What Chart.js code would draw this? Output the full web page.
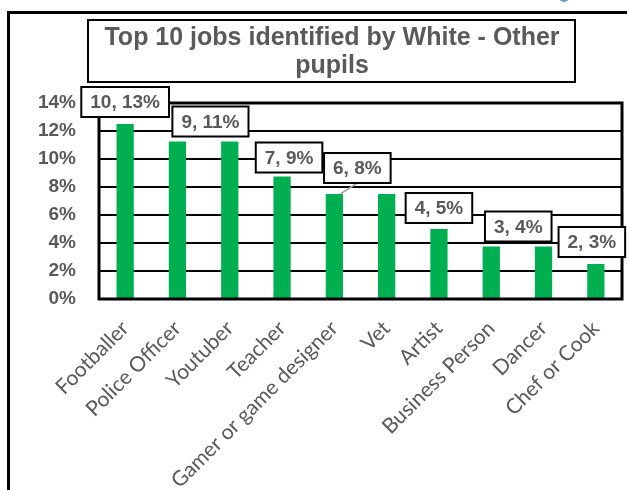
<!DOCTYPE html>
<html>
<head>
<meta charset="utf-8">
<title>Top 10 jobs identified by White - Other pupils</title>
<script src="https://cdn.jsdelivr.net/npm/chart.js@4.4.1/dist/chart.umd.min.js"></script>
<style>
  html, body { margin: 0; padding: 0; background: #fff; }
  #wrap { width: 627px; height: 490px; position: relative; }
</style>
</head>
<body>
<div id="wrap"><canvas id="jobsChart"></canvas></div>
<script>
// Top 10 jobs named by White - Other pupils (share of all answers)
const jobs = ['Footballer', 'Police Officer', 'Youtuber', 'Teacher', 'Gamer or game designer',
              'Vet', 'Artist', 'Business Person', 'Dancer', 'Chef or Cook'];
const pupilCounts = [10, 9, 9, 7, 6, 6, 4, 3, 3, 2];
const sharePct = [12.5, 11.25, 11.25, 8.75, 7.5, 7.5, 5, 3.75, 3.75, 2.5];
const yTicks = [0, 2, 4, 6, 8, 10, 12, 14];
const titleLines = ['Top 10 jobs identified by White - Other', 'pupils'];

const grey = '#595959';
const green = '#00B050';

// which bars carry a "count, %" callout, and how far the callout box sits from the bar top
const callouts = [
  { i: 0, dx: 0,  dy: -22 },
  { i: 1, dx: 33, dy: -20 },
  { i: 3, dx: 7,  dy: -19 },
  { i: 4, dx: 23, dy: -26, leader: true },
  { i: 6, dx: 0,  dy: -21 },
  { i: 7, dx: 27, dy: -20 },
  { i: 9, dx: -4, dy: -22 }
];

const sheetFrame = {
  id: 'sheetFrame',
  beforeDraw(chart) {
    const ctx = chart.ctx;
    ctx.save();
    ctx.fillStyle = '#fff';
    ctx.fillRect(0, 0, chart.width, chart.height);

    // blue corner of the next sheet object peeking in
    ctx.fillStyle = '#4a9bd8';
    ctx.beginPath();
    ctx.arc(564, -3, 5, 0, Math.PI * 2);
    ctx.fill();

    // outer chart border (left and top edges)
    ctx.strokeStyle = '#000';
    ctx.lineWidth = 3;
    ctx.beginPath();
    ctx.moveTo(8.5, chart.height);
    ctx.lineTo(8.5, 12.5);
    ctx.lineTo(chart.width, 12.5);
    ctx.stroke();

    // boxed title
    ctx.lineWidth = 2;
    ctx.strokeRect(88, 20, 487, 62);
    ctx.fillStyle = grey;
    ctx.font = 'bold 25px "Liberation Sans", Arial, sans-serif';
    ctx.textAlign = 'center';
    ctx.textBaseline = 'middle';
    titleLines.forEach((t, k) => ctx.fillText(t, 332, 38 + k * 28));
    ctx.restore();
  },
  afterDatasetsDraw(chart) {
    const a = chart.chartArea;
    const ctx = chart.ctx;
    ctx.save();
    ctx.strokeStyle = '#000';
    ctx.lineWidth = 3;
    ctx.strokeRect(a.left, a.top, a.right - a.left, a.bottom - a.top);
    ctx.restore();
  },
  afterDraw(chart) {
    const ctx = chart.ctx;
    const bars = chart.getDatasetMeta(0).data;
    ctx.save();
    ctx.font = 'bold 19px "Liberation Sans", Arial, sans-serif';
    ctx.textAlign = 'center';
    ctx.textBaseline = 'middle';
    callouts.forEach(c => {
      const bar = bars[c.i];
      const text = pupilCounts[c.i] + ', ' + Math.round(sharePct[c.i]) + '%';
      const w = ctx.measureText(text).width + 18;
      const h = 30;
      const cx = bar.x + c.dx;
      const cy = bar.y + c.dy;
      if (c.leader) {
        ctx.strokeStyle = '#a6a6a6';
        ctx.lineWidth = 1.5;
        ctx.beginPath();
        ctx.moveTo(bar.x + 6, bar.y);
        ctx.lineTo(cx, cy + h / 2);
        ctx.stroke();
      }
      ctx.fillStyle = '#fff';
      ctx.fillRect(cx - w / 2, cy - h / 2, w, h);
      ctx.strokeStyle = '#000';
      ctx.lineWidth = 2;
      ctx.strokeRect(cx - w / 2, cy - h / 2, w, h);
      ctx.fillStyle = grey;
      ctx.fillText(text, cx, cy + 1);
    });
    ctx.restore();
  }
};

new Chart(document.getElementById('jobsChart'), {
  type: 'bar',
  data: {
    labels: jobs,
    datasets: [{
      data: sharePct,
      backgroundColor: green,
      barPercentage: 0.33,
      categoryPercentage: 1
    }]
  },
  options: {
    responsive: true,
    maintainAspectRatio: false,
    animation: false,
    layout: { padding: { top: 103, right: 5, left: 0, bottom: 0 } },
    plugins: {
      legend: { display: false },
      tooltip: { enabled: false }
    },
    scales: {
      x: {
        grid: { display: false },
        border: { color: '#000', width: 2 },
        ticks: {
          color: grey,
          font: { family: 'Lato', size: 21 },
          minRotation: 45,
          maxRotation: 45,
          autoSkip: false,
          padding: 9
        },
        afterFit(s) { s.height = 191; }
      },
      y: {
        min: 0,
        max: 14,
        afterBuildTicks(s) { s.ticks = yTicks.map(v => ({ value: v })); },
        grid: { color: '#000', lineWidth: 2, drawTicks: false },
        border: { color: '#000', width: 2 },
        ticks: {
          color: grey,
          font: { family: 'Liberation Sans', size: 19, weight: 'bold' },
          padding: 23,
          callback: v => v + '%'
        },
        afterFit(s) { s.width = 99; }
      }
    }
  },
  plugins: [sheetFrame]
});
</script>
</body>
</html>
